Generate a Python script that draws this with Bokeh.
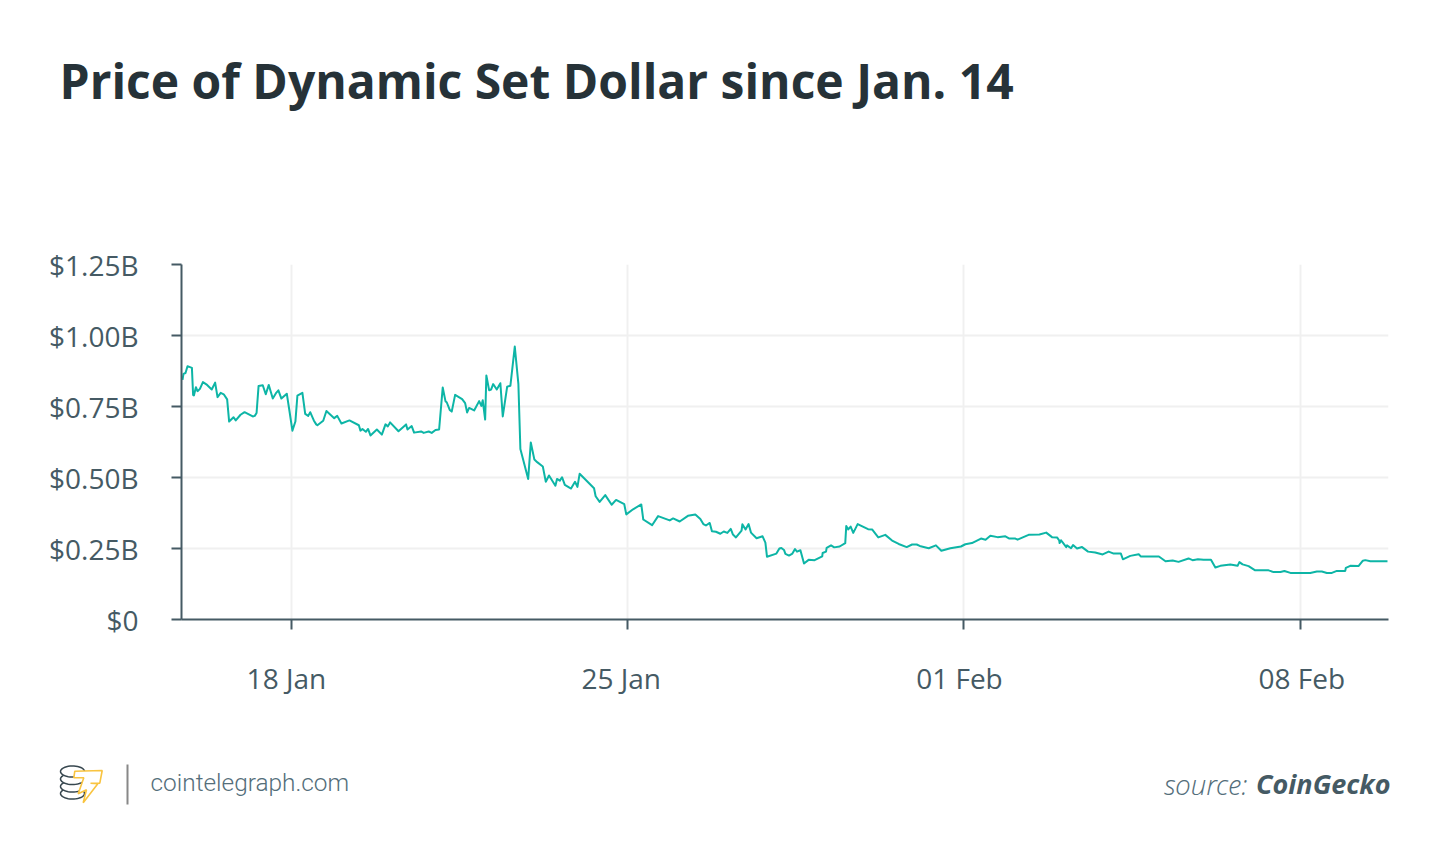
from datetime import datetime, timedelta
import numpy as np
from bokeh.plotting import figure
from bokeh.layouts import column
from bokeh.models import Label, FixedTicker, PolyAnnotation, BoxAnnotation, Range1d
from bokeh.embed import file_html
from bokeh.resources import INLINE

START = datetime(2021, 1, 15, 17, 6)
hours = [0.5,1.0,2.0,3.0,5.2,5.8,6.2,7.2,8.0,9.2,10.7,12.8,15.1,16.8,18.0,19.6,21.1,22.8,23.8,26.0,27.1,29.5,31.5,35.6,36.6,37.5,38.5,40.6,42.1,43.6,45.6,47.4,48.4,49.9,52.6,53.9,55.4,56.9,57.9,60.4,61.8,63.3,64.3,66.1,67.3,67.9,70.8,72.4,76.3,77.8,79.9,83.9,88.6,89.4,90.4,92.1,93.2,94.4,97.6,100.1,101.9,103.1,104.2,108.4,112.2,112.9,115.0,116.2,119.7,121.0,123.5,125.0,126.9,128.7,130.5,131.9,132.5,134.0,135.0,136.7,140.2,141.7,142.7,143.7,146.2,148.7,149.8,150.5,151.7,152.3,153.7,154.7,155.7,157.5,159.3,160.5,162.7,164.3,166.5,168.3,169.3,173.2,174.5,176.3,177.7,180.5,182.0,183.6,186.8,187.6,189.0,190.1,191.5,193.8,
194.6,196.6,197.8,198.9,206.1,206.9,208.9,211.7,214.9,217.1,221.2,222.2,225.6,229.7,230.7,235.1,238.1,243.9,245.6,248.9,253.0,256.7,259.2,260.7,262.0,263.9,265.0,267.0,269.2,270.9,272.7,274.4,275.5,277.0,279.8,280.2,281.8,283.3,284.5,287.3,290.3,291.7,292.5,297.2,298.7,299.7,301.0,301.7,303.5,305.2,306.5,307.5,309.2,311.0,313.3,316.3,320.1,320.3,322.0,322.3,324.5,326.1,328.8,331.6,332.1,333.1,334.3,335.6,337.8,343.0,345.0,348.1,351.6,355.0,358.3,362.3,365.0,367.3,368.8,373.3,376.9,379.6,384.1,
389.4,391.6,394.9,399.4,401.7,404.1,407.7,411.6,413.6,416.6,417.7,423.2,428.6,432.0,434.9,437.4,438.5,438.7,439.4,440.4,442.0,442.4,444.4,445.4,447.4,449.9,452.9,456.5,460.2,463.2,465.7,469.3,470.3,474.0,478.2,479.2,488.3,491.6,495.2,498.1,503.1,505.1,507.8,510.6,514.3,516.5,519.0,524.0,527.6,528.5,530.1,533.1,536.4,543.1,545.6,549.0,551.0,554.0,563.9,567.2,569.7,572.2,574.7,577.2,581.4,581.7,583.9,588.0,590.2,591.4,593.9,602.5]
price_b = [.844,.865,.868,.892,.886,.791,.789,.818,.804,.812,.836,.826,.810,.834,.783,.798,.793,.775,.697,.712,.701,.721,.730,.715,.717,.727,.822,.825,.793,.826,.778,.799,.807,.778,.795,.736,.665,.697,.788,.798,.724,.717,.730,.701,.687,.684,.700,.734,.709,.717,.690,.701,.684,.665,.671,.661,.671,.648,.669,.651,.687,.680,.694,.663,.687,.669,.681,.658,.662,.657,.662,.657,.667,.669,.817,.768,.765,.738,.732,.791,.776,.762,.729,.745,.736,.769,.752,.772,.704,.859,.807,.810,.829,.810,.832,.715,.820,.823,.961,.830,.600,.495,.623,.563,.554,.539,.485,.507,.471,.495,.489,.501,.474,.464,
.461,.485,.467,.513,.462,.434,.414,.438,.404,.421,.406,.370,.388,.405,.352,.332,.364,.349,.356,.345,.365,.370,.354,.336,.331,.340,.311,.309,.302,.310,.305,.319,.299,.289,.313,.335,.317,.336,.306,.286,.293,.271,.221,.232,.250,.252,.245,.231,.225,.232,.248,.239,.244,.197,.210,.209,.222,.234,.239,.252,.261,.254,.257,.269,.329,.317,.327,.305,.336,.318,.317,.289,.298,.278,.266,.255,.264,.264,.259,.251,.261,.242,.251,
.257,.265,.269,.285,.281,.295,.290,.293,.285,.285,.281,.298,.299,.306,.290,.289,.278,.269,.279,.270,.255,.261,.251,.262,.250,.255,.239,.236,.229,.239,.232,.232,.212,.224,.230,.222,.222,.205,.208,.203,.215,.209,.212,.210,.210,.183,.189,.194,.189,.202,.194,.188,.173,.173,.167,.167,.171,.164,.164,.169,.169,.164,.164,.171,.171,.182,.189,.188,.207,.209,.205,.205]
y_ticks = [0, 0.25, 0.5, 0.75, 1.0, 1.25]
y_labels = ["$0", "$0.25B", "$0.50B", "$0.75B", "$1.00B", "$1.25B"]
x_ticks = [datetime(2021, 1, 18), datetime(2021, 1, 25), datetime(2021, 2, 1), datetime(2021, 2, 8)]
x_labels = ["18 Jan", "25 Jan", "01 Feb", "08 Feb"]
x_label_shift = [-5, -6.5, -4.5, 1.5]

dates = [START + timedelta(hours=h) for h in hours]
def ms(d):
    return (d - datetime(1970, 1, 1)).total_seconds() * 1000

W, H = 1440, 856
LEFT, TOP, RIGHT, BOTTOM = 181, 264, 1388, 619
HOURS_SPAN = 603
DARK = "#263238"
AXIS = "#455a64"
TOP_H, CHART_BOTTOM = 240, 640          # the three stacked figures meet at these page rows

p = figure(width=W, height=CHART_BOTTOM - TOP_H, output_backend="svg", toolbar_location=None, x_axis_type="datetime",
           x_range=Range1d(START, START + timedelta(hours=HOURS_SPAN)), y_range=Range1d(0, 1.25), frame_align=False,
           min_border_left=LEFT, min_border_right=W - RIGHT, min_border_top=TOP - TOP_H, min_border_bottom=CHART_BOTTOM - BOTTOM)
p.outline_line_color = None
p.background_fill_color = "white"
p.line(dates, price_b, line_color="#0db5a6", line_width=2, line_join="round")

p.yaxis.ticker = FixedTicker(ticks=y_ticks)
p.yaxis.major_label_overrides = dict(zip(y_ticks, y_labels))
p.xaxis.ticker = FixedTicker(ticks=[ms(d) for d in x_ticks])
p.xaxis.major_label_text_font_size = "0px"
p.xaxis.major_label_overrides = {ms(d): "" for d in x_ticks}
for ax in (p.xaxis[0], p.yaxis[0]):
    ax.axis_line_color = AXIS
    ax.axis_line_width = 2
    ax.major_tick_line_color = AXIS
    ax.major_tick_line_width = 2
    ax.major_tick_in = 0
    ax.major_tick_out = 10
    ax.minor_tick_line_color = None
    ax.major_label_text_font = "Open Sans"
    ax.major_label_text_color = AXIS
p.yaxis.major_label_text_font_size = "28px"
p.yaxis.major_label_standoff = 33
p.xgrid.ticker = FixedTicker(ticks=[ms(d) for d in x_ticks])
p.ygrid.ticker = FixedTicker(ticks=y_ticks)
for g in (p.xgrid[0], p.ygrid[0]):
    g.grid_line_color = "#f0f0f0"
    g.grid_line_width = 2

def blank(height, x_range=None):
    f = figure(width=W, height=height, output_backend="svg", toolbar_location=None,
               x_axis_location=None, y_axis_location=None, x_axis_type="datetime", frame_align=False,
               x_range=x_range or Range1d(0, 1), y_range=Range1d(0, 1),
               min_border_left=0, min_border_right=0, min_border_top=0, min_border_bottom=0)
    f.outline_line_color = None
    f.grid.visible = False
    return f

head = blank(TOP_H)
px_per_hour = (RIGHT - LEFT) / HOURS_SPAN
foot = blank(H - CHART_BOTTOM, Range1d(START - timedelta(hours=LEFT / px_per_hour),
                                       START + timedelta(hours=(W - LEFT) / px_per_hour)))

def label(fig, base, text, X, Y, size, color, align="left", style="normal", font="Open Sans"):
    fig.add_layout(Label(x=X, y=base - Y, x_units="screen", y_units="screen", text=text, text_font=font,
                         text_font_size=size, text_color=color, text_align=align,
                         text_baseline="alphabetic", text_font_style=style))

label(head, TOP_H, "Price of Dynamic Set Dollar since Jan. 14", 59, 80, "48px", DARK, style="bold")

for d, s, shift in zip(x_ticks, x_labels, x_label_shift):
    foot.add_layout(Label(x=ms(d), y=H - 677, x_units="data", y_units="screen", x_offset=shift, text=s,
                          text_font="Open Sans", text_font_size="28px", text_color=AXIS,
                          text_align="center", text_baseline="alphabetic"))

label(foot, H, "cointelegraph.com", 150, 782, "24.4px", "#546e7a", font="Roboto Light")
label(foot, H, "CoinGecko", 1390, 783, "27px", AXIS, "right", "bold italic")
label(foot, H, "source:", 1247, 783, "28px", "#546e7a", "right", "italic", font="Open Sans Light")

foot.add_layout(BoxAnnotation(left=126, right=128, top=H - 764, bottom=H - 804, left_units="screen", right_units="screen",
                              top_units="screen", bottom_units="screen", fill_color="#888888", fill_alpha=1, line_color=None))

def poly(xs, ys, color, fill=None, width=1.6):
    foot.add_layout(PolyAnnotation(xs=[float(v) for v in xs], ys=[float(H - v) for v in ys], xs_units="screen", ys_units="screen",
                                   fill_color=fill, fill_alpha=1 if fill else 0, line_color=color, line_alpha=1, line_width=width))
t = np.linspace(0, 2 * np.pi, 40)
for cy in (793, 786, 778.5, 771):
    poly(72 + 12 * np.cos(t), cy + 5.5 * np.sin(t), "#37474f", "white", 1.5)
poly([74.3, 101.7, 99.3, 90, 97.3, 82.7, 86, 77.7, 83.3, 73.3],
     [770.7, 770, 782.7, 782.7, 783.3, 802.3, 789.3, 793.3, 777.3, 777.3], "#f9c440", "white", 1.6)

page = column(head, p, foot, spacing=0)
open("out.html", "w").write(file_html(page, INLINE))
